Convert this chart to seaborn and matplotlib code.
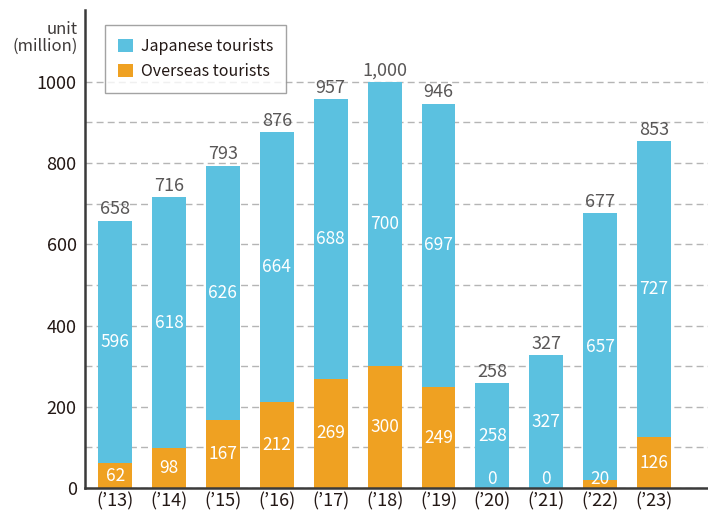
import pandas as pd
import seaborn as sns
import matplotlib.pyplot as plt

# Dados (milhões)
anos = ["(’13)", "(’14)", "(’15)", "(’16)", "(’17)", "(’18)",
        "(’19)", "(’20)", "(’21)", "(’22)", "(’23)"]
japoneses = [596, 618, 626, 664, 688, 700, 697, 258, 327, 657, 727]
estrangeiros = [62, 98, 167, 212, 269, 300, 249, 0, 0, 20, 126]
totais = [658, 716, 793, 876, 957, 1000, 946, 258, 327, 677, 853]

df = pd.DataFrame({"ano": anos, "jp": japoneses, "ext": estrangeiros, "total": totais})

sns.set_style("white")
plt.rcParams['font.family'] = ['Noto Sans CJK JP', 'DejaVu Sans']

azul = "#5BC1E0"
laranja = "#EFA122"

fig = plt.figure(figsize=(7.08, 5.16), dpi=100)
ax = fig.add_axes([0.12, 0.054, 0.88, 0.927])

ax.yaxis.grid(True, which='both', linestyle=(0, (5, 3)), color='#b5b5b5', linewidth=1)
ax.set_axisbelow(True)

# barras empilhadas: total (azul) e estrangeiros (laranja) por cima
sns.barplot(data=df, x="ano", y="total", color=azul, width=0.63,
            saturation=1, ax=ax, label="Japanese tourists", linewidth=0)
sns.barplot(data=df, x="ano", y="ext", color=laranja, width=0.63,
            saturation=1, ax=ax, label="Overseas tourists", linewidth=0)

ax.set_ylim(0, 1177)
ax.set_xlim(-0.56, 11.0)
ax.set_yticks([0, 200, 400, 600, 800, 1000])
ax.set_yticks(range(100, 1001, 200), minor=True)
ax.tick_params(axis='y', which='both', length=0, labelsize=13, colors='#231815', pad=6)
ax.tick_params(axis='x', length=0, labelsize=13, colors='#231815', pad=3)
ax.set_xlabel("")
ax.set_ylabel("")

for s in ["top", "right"]:
    ax.spines[s].set_visible(False)
for s in ["left", "bottom"]:
    ax.spines[s].set_color('#3a3a3a')
    ax.spines[s].set_linewidth(1.8)

# rótulos
for i, row in df.iterrows():
    ax.text(i, row.total + 6, f"{row.total:,}", ha='center', va='bottom',
            fontsize=13, color='#595757')
    ax.text(i, row.ext + row.jp / 2, str(row.jp), ha='center', va='center',
            fontsize=12.5, color='white')
    ax.text(i, max(row.ext / 2, 22), str(row.ext), ha='center', va='center',
            fontsize=12.5, color='white')

ax.text(-0.012, 0.977, "unit\n(million)", transform=ax.transAxes, ha='right',
        va='top', fontsize=12, color='#3e3a39', linespacing=1.0,
        multialignment='right')

leg = ax.legend(loc='upper left', bbox_to_anchor=(0.02, 0.985), frameon=True,
                fancybox=False, fontsize=11.5, handlelength=0.9, handleheight=0.9,
                borderpad=0.8, labelspacing=0.5, handletextpad=0.5)
leg.get_frame().set_edgecolor('#8c8c8c')
leg.get_frame().set_linewidth(1)
for t in leg.get_texts():
    t.set_color('#231815')

plt.savefig('out.png', dpi=100)
